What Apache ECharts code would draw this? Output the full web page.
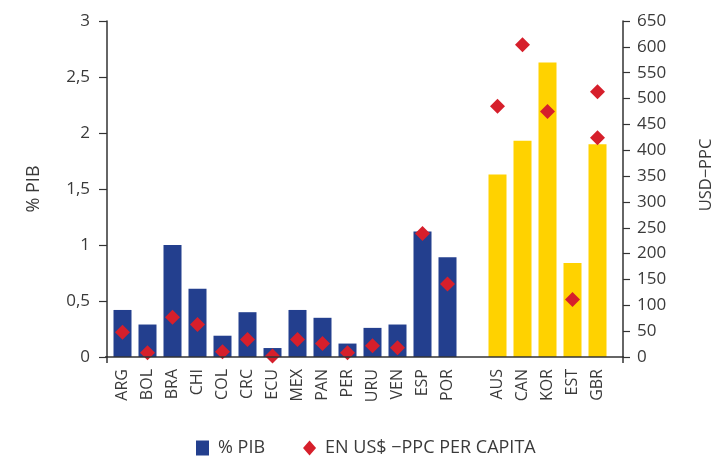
<!DOCTYPE html>
<html>
<head>
<meta charset="utf-8">
<script src="https://cdn.jsdelivr.net/npm/echarts@6/dist/echarts.min.js"></script>
<style>html,body{margin:0;padding:0;background:#fff;}#c{width:715px;height:456px;}</style>
</head>
<body>
<div id="c"></div>
<script>
var categories = ['ARG','BOL','BRA','CHI','COL','CRC','ECU','MEX','PAN','PER','URU','VEN','ESP','POR','','AUS','CAN','KOR','EST','GBR'];
var pibValues = [0.42,0.29,1.00,0.61,0.19,0.40,0.08,0.42,0.35,0.12,0.26,0.29,1.12,0.89,null,1.63,1.93,2.63,0.84,1.90];
var usdValues = [48,8,77,63,10,34,2,34,26,8,22,18,239,141,null,485,604,475,111,513];
var usdExtra = [['GBR',424]];
var groups = ['A','A','A','A','A','A','A','A','A','A','A','A','A','A','','B','B','B','B','B'];

var BLUE = '#233f8e', YELLOW = '#ffd200', RED = '#d61f2b';
var FONT = 'Open Sans';
var TXT = '#3a3a3a';

var chart = echarts.init(document.getElementById('c'));
chart.setOption({
  animation: false,
  textStyle: {fontFamily: FONT},
  grid: {left: 110, right: 105, top: 21, bottom: 99, containLabel: false, outerBoundsMode: 'none'},
  legend: {
    left: 191, top: 434, itemGap: 38, itemWidth: 13, itemHeight: 15,
    textStyle: {fontFamily: FONT, fontSize: 18, color: TXT, padding: [0, 0, 0, 4]},
    data: [{name: '% PIB', icon: 'rect'}, {name: 'EN US$ −PPC PER CAPITA', icon: 'diamond'}]
  },
  xAxis: {
    type: 'category', data: categories, boundaryGap: true,
    axisLine: {show: false}, axisTick: {show: false},
    axisLabel: {rotate: 90, interval: 0, fontFamily: FONT, fontSize: 16, color: TXT, margin: 12}
  },
  yAxis: [{
    type: 'value', min: 0, max: 3, interval: 0.5, position: 'left', offset: 3,
    name: '% PIB', nameLocation: 'middle', nameRotate: 90, nameGap: 64,
    nameTextStyle: {fontFamily: FONT, fontSize: 18, color: TXT},
    axisLine: {show: true, lineStyle: {color: '#333', width: 1.5}},
    axisTick: {show: true, inside: false, length: 8, lineStyle: {color: '#333', width: 1.2}},
    splitLine: {show: false},
    axisLabel: {fontFamily: FONT, fontSize: 17, color: TXT, margin: 17,
      formatter: function (v) { return String(v).replace('.', ','); }}
  }, {
    type: 'value', min: 0, max: 650, interval: 50, position: 'right', offset: 13,
    name: 'USD−PPC', nameLocation: 'middle', nameRotate: 90, nameGap: 75,
    nameTextStyle: {fontFamily: FONT, fontSize: 16.5, color: TXT, padding: [0, 0, 0, 28]},
    axisLine: {show: true, lineStyle: {color: '#333', width: 1.5}},
    axisTick: {show: true, inside: false, length: 7, lineStyle: {color: '#333', width: 1.2}},
    splitLine: {show: false},
    axisLabel: {fontFamily: FONT, fontSize: 17, color: TXT, margin: 14}
  }],
  series: [{
    name: '% PIB', type: 'bar', yAxisIndex: 0, barWidth: 18,
    itemStyle: {color: BLUE},
    data: pibValues.map(function (v, i) {
      return {value: v === null ? '-' : v, itemStyle: {color: groups[i] === 'B' ? YELLOW : BLUE}};
    })
  }, {
    name: 'EN US$ −PPC PER CAPITA', type: 'scatter', yAxisIndex: 1,
    symbol: 'diamond', symbolSize: 15, itemStyle: {color: RED, opacity: 1}, z: 5,
    data: usdValues.map(function (v) { return v === null ? '-' : v; })
  }, {
    name: 'EN US$ −PPC PER CAPITA', type: 'scatter', yAxisIndex: 1,
    symbol: 'diamond', symbolSize: 15, itemStyle: {color: RED, opacity: 1}, z: 5,
    data: usdExtra
  }],
  graphic: [{
    type: 'line', shape: {x1: 105, y1: 357, x2: 623, y2: 357},
    style: {stroke: '#333', lineWidth: 1.5}, z: 10
  }, {
    type: 'line', shape: {x1: 107, y1: 356, x2: 107, y2: 363},
    style: {stroke: '#333', lineWidth: 1.5}, z: 10
  }, {
    type: 'line', shape: {x1: 623, y1: 356, x2: 623, y2: 363},
    style: {stroke: '#333', lineWidth: 1.5}, z: 10
  }]
});
</script>
</body>
</html>
